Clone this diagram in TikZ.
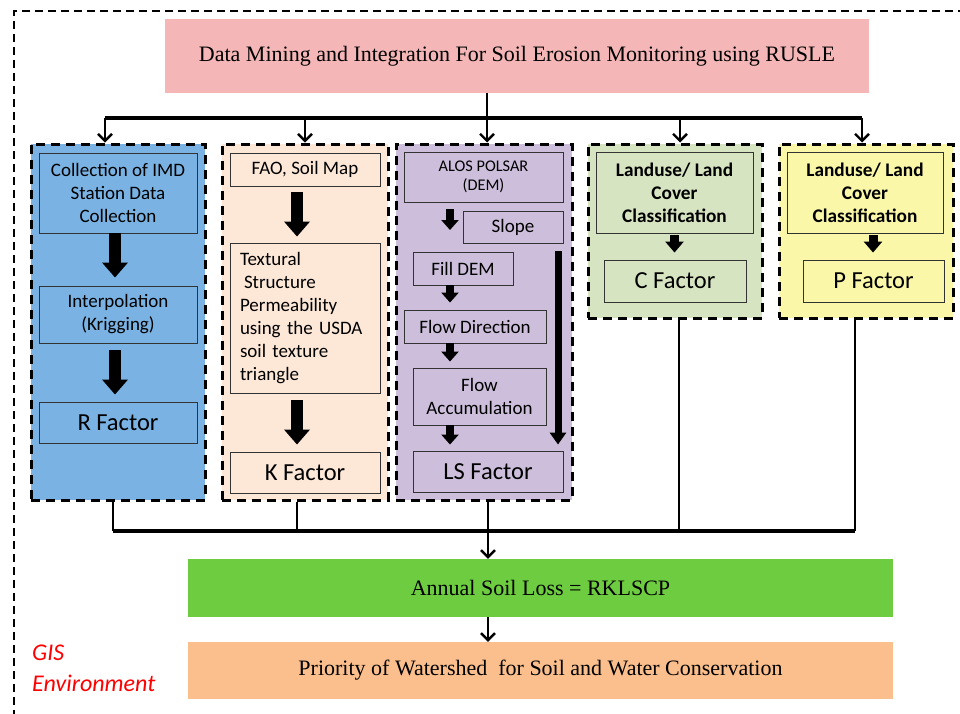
\documentclass[tikz,border=0pt]{standalone}
\usepackage{fontspec}
\setmainfont{Liberation Serif}
\newfontfamily\bodyfont{Carlito}
\usetikzlibrary{arrows.meta}

\definecolor{titlepink}{HTML}{F4B6B6}
\definecolor{rblue}{HTML}{7AB3E3}
\definecolor{kpeach}{HTML}{FDE8D8}
\definecolor{lspurple}{HTML}{CDBFDC}
\definecolor{cgreen}{HTML}{D6E4C2}
\definecolor{pyellow}{HTML}{FAF7A8}
\definecolor{lossgreen}{HTML}{6DCC40}
\definecolor{prioorange}{HTML}{FBBF8D}
\definecolor{gisred}{HTML}{FF0000}

\begin{document}
\begin{tikzpicture}[x=1pt,y=-1pt,
  colbox/.style={draw=black, line width=3pt, dash pattern=on 9pt off 6pt, inner sep=0pt},
  inbox/.style={draw=black!80, line width=0.9pt, inner sep=0pt, align=center,
    font=\bodyfont\fontsize{19}{23}\selectfont},
  factor/.style={inbox, font=\bodyfont\fontsize{24.5}{27}\selectfont},
  boldbox/.style={inbox, font=\bodyfont\bfseries\fontsize{19.3}{23}\selectfont},
  wide/.style={inner sep=0pt, align=center},
  link/.style={line width=2.6pt},
  linkarrow/.style={link, -{Straight Barb[length=7pt,width=14pt,line width=2.4pt]}},
  blockarrow/.style={line width=12pt, -{Triangle[length=15pt,width=25pt]}},
  midarrow/.style={line width=9pt, -{Triangle[length=11pt,width=18pt]}},
  smallarrow/.style={line width=8pt, -{Triangle[length=10pt,width=17pt]}},
  slimarrow/.style={line width=7pt, -{Triangle[length=12pt,width=16pt]}}]

\useasboundingbox (0,0) rectangle (960,713);

% outer GIS frame
\draw[line width=2pt, dash pattern=on 8pt off 5pt] (966,11) -- (14,11) -- (14,720);

% header
\node[wide, fill=titlepink, minimum width=704pt, minimum height=74pt,
  font=\fontsize{22}{26}\selectfont] (title) at (517,56)
  {Data Mining and Integration For Soil Erosion Monitoring using RUSLE};

% factor columns
\node[colbox, fill=rblue, minimum width=174pt, minimum height=356pt] (colR) at (118,322) {};
\node[colbox, fill=kpeach, minimum width=166pt, minimum height=356pt] (colK) at (305,322) {};
\node[colbox, fill=lspurple, minimum width=176pt, minimum height=356pt] (colLS) at (484,322) {};
\node[colbox, fill=cgreen, minimum width=174pt, minimum height=174pt] (colC) at (675,231) {};
\node[colbox, fill=pyellow, minimum width=174pt, minimum height=174pt] (colP) at (866,231) {};

% distribution bus
\coordinate (b1) at (105,118);
\coordinate (b2) at (305,118);
\coordinate (b3) at (487,118);
\coordinate (b4) at (680,118);
\coordinate (b5) at (862,118);
\draw[link, line width=3.2pt] (b1) -- (b5);
\draw[linkarrow] (b1) -- (colR.north -| b1);
\draw[linkarrow] (b2) -- (colK.north -| b2);
\draw[linkarrow] (title.south -| b3) -- (colLS.north -| b3);
\draw[linkarrow] (b4) -- (colC.north -| b4);
\draw[linkarrow] (b5) -- (colP.north -| b5);

% R factor
\node[inbox, fill=rblue, minimum width=158pt, minimum height=80pt] (r1) at (118,193)
  {Collection of IMD\\Station Data\\Collection};
\node[inbox, fill=rblue, minimum width=158pt, minimum height=57pt] (r2) at (118,314.5)
  {Interpolation\\(Krigging)};
\node[factor, fill=rblue, minimum width=158pt, minimum height=41pt] (r3) at (118,422.5)
  {R Factor};
\draw[blockarrow, shorten >=8pt] ([xshift=-3pt]r1.south) -- ([xshift=-3pt]r2.north);
\draw[blockarrow, shorten <=7pt, shorten >=7pt] ([xshift=-3pt]r2.south) -- ([xshift=-3pt]r3.north);

% K factor
\node[inbox, fill=kpeach, minimum width=150pt, minimum height=33pt] (k1) at (305,169.5)
  {FAO, Soil Map};
\node[inbox, fill=kpeach, minimum width=150pt, minimum height=150pt, text width=130pt,
  align=left] (k2) at (305,318)
  {Textural\\\hspace{4pt}Structure\\Permeability\\using the USDA\\soil texture\\triangle};
\node[factor, fill=kpeach, minimum width=150pt, minimum height=41pt] (k3) at (305,472.5)
  {K Factor};
\draw[blockarrow, shorten <=6pt, shorten >=6pt] ([xshift=-8pt]k1.south) -- ([xshift=-8pt]k2.north);
\draw[blockarrow, shorten <=7pt, shorten >=7pt] ([xshift=-8pt]k2.south) -- ([xshift=-8pt]k3.north);

% LS factor
\node[inbox, fill=lspurple, minimum width=159pt, minimum height=50pt,
  font=\bodyfont\fontsize{16.3}{19}\selectfont] (ls1) at (483.5,177) {ALOS POLSAR\\(DEM)};
\node[inbox, fill=lspurple, minimum width=100pt, minimum height=32pt] (slope) at (513,227) {Slope};
\node[inbox, fill=lspurple, minimum width=100pt, minimum height=33pt] (fill) at (463,268.5) {Fill DEM};
\node[inbox, fill=lspurple, minimum width=142pt, minimum height=33pt] (dir) at (475,326.5) {Flow Direction};
\node[inbox, fill=lspurple, minimum width=133pt, minimum height=57pt] (acc) at (479.5,396.5) {Flow\\Accumulation};
\node[factor, fill=lspurple, minimum width=150pt, minimum height=41pt] (lsf) at (488,471.5) {LS Factor};
\coordinate (xa) at (450,0);
\coordinate (xb) at (558,0);
\coordinate (slopeend) at (450,230);
\draw[smallarrow, shorten <=7pt] (ls1.south -| xa) -- (slopeend);
\draw[smallarrow, shorten >=7pt] (fill.south -| xa) -- (dir.north -| xa);
\draw[smallarrow, shorten >=6pt] (dir.south -| xa) -- (acc.north -| xa);
\draw[smallarrow, shorten >=6pt] (acc.south -| xa) -- (lsf.north -| xa);
\draw[slimarrow, shorten <=8pt, shorten >=6pt] (slope.south -| xb) -- (lsf.north -| xb);

% C factor
\node[boldbox, fill=cgreen, minimum width=157pt, minimum height=81pt] (c1) at (674.5,192.5)
  {Landuse/ Land\\Cover\\Classification};
\node[factor, fill=cgreen, minimum width=142pt, minimum height=42pt] (c2) at (675,281) {C Factor};
\draw[midarrow, shorten <=2pt, shorten >=7pt] (c1.south) -- (c2.north -| c1.south);

% P factor
\node[boldbox, fill=pyellow, minimum width=156pt, minimum height=81pt] (p1) at (865,192.5)
  {Landuse/ Land\\Cover\\Classification};
\node[factor, fill=pyellow, minimum width=141pt, minimum height=42pt] (p2) at (873.5,281) {P Factor};
\coordinate (xp) at (873,0);
\draw[midarrow, shorten <=2pt, shorten >=7pt] (p1.south -| xp) -- (p2.north -| xp);

% results
\node[wide, fill=lossgreen, minimum width=705pt, minimum height=58pt,
  font=\fontsize{22}{26}\selectfont] (loss) at (540.5,588) {Annual Soil Loss = RKLSCP};
\node[wide, fill=prioorange, minimum width=705pt, minimum height=57pt,
  font=\fontsize{22}{26}\selectfont] (prio) at (540.5,670.5)
  {Priority of Watershed\ \ for Soil and Water Conservation};

% collecting bus
\coordinate (j1) at (113,531);
\coordinate (j2) at (297,531);
\coordinate (j3) at (488,531);
\coordinate (j4) at (679,531);
\coordinate (j5) at (855,531);
\draw[link, line width=3.2pt] (j1) -- (j5);
\draw[link] (colR.south -| j1) -- (j1);
\draw[link] (colK.south -| j2) -- (j2);
\draw[link] (colC.south -| j4) -- (j4);
\draw[link] (colP.south -| j5) -- (j5);
\draw[linkarrow] (colLS.south -| j3) -- (loss.north -| j3);
\draw[linkarrow] (loss.south -| j3) -- (prio.north -| j3);

% environment label
\node[anchor=west, align=left, text=gisred, inner sep=0pt,
  font=\bodyfont\itshape\fontsize{24}{31}\selectfont] (gis) at (32,668.5) {GIS\\Environment};

\end{tikzpicture}
\end{document}
